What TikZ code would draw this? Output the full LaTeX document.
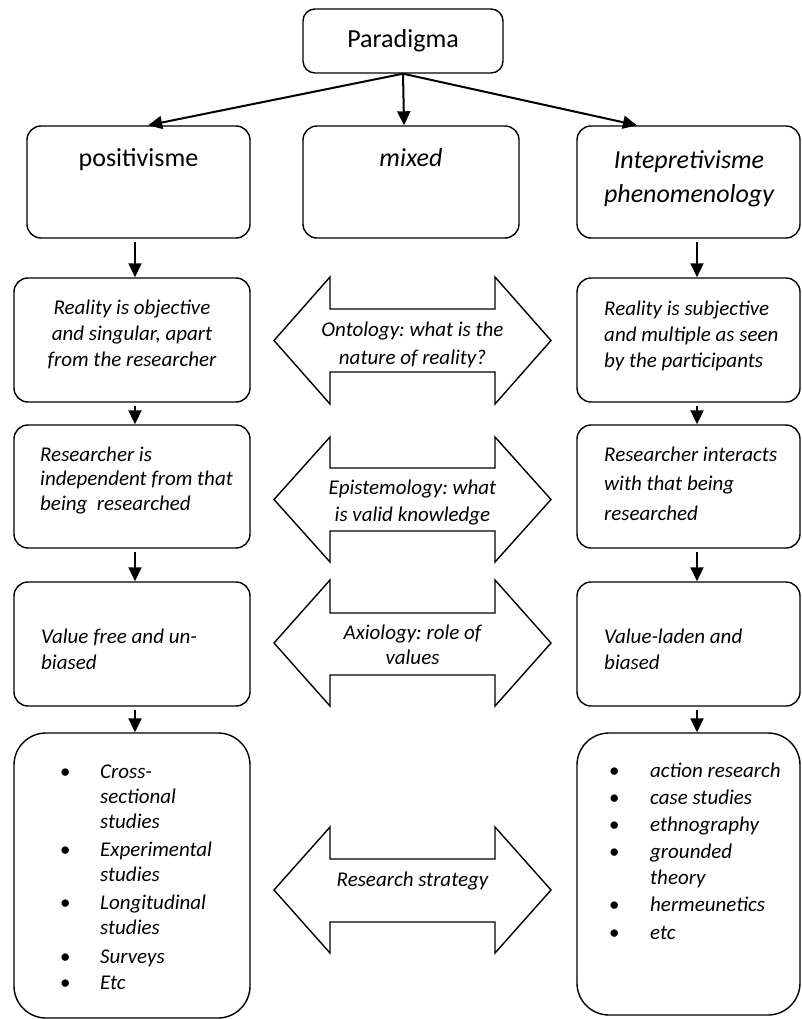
\documentclass[tikz,border=0pt]{standalone}
\usepackage{fontspec}
\setmainfont{Carlito}
\usetikzlibrary{arrows.meta,calc}
\frenchspacing

% multi-line text blocks whose baseline is the first line
\newcommand\txtL[1]{\begin{tabular}[t]{@{}l@{}}#1\end{tabular}}
\newcommand\txtC[1]{\begin{tabular}[t]{@{}c@{}}#1\end{tabular}}
\newcommand\bul{\makebox[20pt]{\textbullet}}

\begin{document}
\begin{tikzpicture}[x=1pt,y=-1pt,
  box/.style={draw, line width=1.4pt, rounded corners=14pt, inner sep=0pt},
  listbox/.style={box, rounded corners=32pt},
  big/.style={inner sep=0pt, font=\fontsize{26}{34}\selectfont},
  bigit/.style={inner sep=0pt, font=\fontsize{26}{34}\selectfont\itshape},
  small/.style={inner sep=0pt, font=\fontsize{21}{26}\selectfont\itshape},
  link/.style={line width=2pt, -{Triangle[length=14pt,width=13pt]}},
  down/.style={link, shorten <=3pt},
  dbl/.style={draw, line width=1.4pt, line join=miter},
]
\useasboundingbox (0,0) rectangle (802,1019);

% double-headed block arrow: top, shaft top, shaft bottom, bottom
\newcommand\dblarrow[4]{%
  \draw[dbl] (274,{(#1+#4)/2}) -- (330,#1) -- (330,#2) -- (495,#2) -- (495,#1)
    -- (551,{(#1+#4)/2}) -- (495,#4) -- (495,#3) -- (330,#3) -- (330,#4) -- cycle;}

% ---------- boxes ----------
\node[box, rounded corners=12pt, minimum width=200pt, minimum height=64pt] (par) at (403,41) {};

\node[box, minimum width=223pt, minimum height=112pt] (r1L) at (138.5,182) {};
\node[box, minimum width=216pt, minimum height=112pt] (r1M) at (411,182) {};
\node[box, minimum width=223pt, minimum height=112pt] (r1R) at (688.5,182) {};

\node[box, minimum width=236pt, minimum height=124pt] (onL) at (132,340) {};
\node[box, minimum width=223pt, minimum height=124pt] (onR) at (688.5,340) {};

\node[box, minimum width=236pt, minimum height=123pt] (epL) at (132,486.5) {};
\node[box, minimum width=223pt, minimum height=123pt] (epR) at (688.5,486.5) {};

\node[box, minimum width=236pt, minimum height=124pt] (vaL) at (132,644) {};
\node[box, minimum width=223pt, minimum height=124pt] (vaR) at (688.5,644) {};

\node[listbox, minimum width=236pt, minimum height=285pt] (stL) at (132,875.5) {};
\node[listbox, minimum width=223pt, minimum height=282pt] (stR) at (688.5,874) {};

% ---------- texts ----------
\node[big, anchor=base] (parT) at (403,48) {Paradigma};
\node[big, anchor=base] (posT) at (138.5,167) {positivisme};
\node[bigit, anchor=base] (mixT) at (411,167) {mixed};
\node[bigit, anchor=base] (intT) at (689,168) {\txtC{Intepretivisme\\phenomenology}};

\node[small, anchor=base] (onLT) at (132,314)
  {\txtC{Reality is objective\\and singular, apart\\from the researcher}};
\node[small, anchor=base west] (onRT) at (604,315)
  {\txtL{Reality is subjective\\and multiple as seen\\by the participants}};

\node[small, font=\fontsize{21}{24.5}\selectfont\itshape, anchor=base west] (epLT) at (40,461)
  {\txtL{Researcher is\\independent from that\\being\ \ researched}};
\node[small, font=\fontsize{21}{29.5}\selectfont\itshape, anchor=base west] (epRT) at (604,461)
  {\txtL{Researcher interacts\\with that being\\researched}};

\node[small, anchor=base west] (vaLT) at (41,643) {\txtL{Value free and un-\\biased}};
\node[small, anchor=base west] (vaRT) at (604,643) {\txtL{Value-laden and\\biased}};

\node[small, font=\fontsize{21}{25}\selectfont\itshape, anchor=base west] (stLT) at (55,778)
  {\begin{tabular}[t]{@{}l@{\hspace{25pt}}l@{}}
   \bul & Cross-\\ & sectional\\ & studies\\[3pt]
   \bul & Experimental\\ & studies\\[3pt]
   \bul & Longitudinal\\ & studies\\[4pt]
   \bul & Surveys\\[1pt]
   \bul & Etc
   \end{tabular}};
\node[small, anchor=base west] (stRT) at (604,777)
  {\begin{tabular}[t]{@{}l@{\hspace{26pt}}l@{}}
   \bul & action research\\[1pt]
   \bul & case studies\\[1pt]
   \bul & ethnography\\[1pt]
   \bul & grounded\\ & theory\\[1pt]
   \bul & hermeunetics\\[2pt]
   \bul & etc
   \end{tabular}};

% ---------- central block arrows ----------
\dblarrow{277}{309}{372}{404}
\dblarrow{437}{468}{531}{562}
\dblarrow{580}{613}{675}{706}
\dblarrow{827}{859}{922}{953}

\node[small, font=\fontsize{21}{28}\selectfont\itshape, anchor=base] (ontT) at (412.5,336)
  {\txtC{Ontology: what is the\\nature of reality?}};
\node[small, font=\fontsize{21}{27}\selectfont\itshape, anchor=base] (epiT) at (412.5,494)
  {\txtC{Epistemology: what\\is valid knowledge}};
\node[small, font=\fontsize{21}{25}\selectfont\itshape, anchor=base] (axiT) at (412.5,639)
  {\txtC{Axiology: role of\\values}};
\node[small, anchor=base] (strT) at (412.5,886) {Research strategy};

% ---------- connectors ----------
\draw[link] (par.south) -- ($(r1L.north west)!0.543!(r1L.north east)$);
\draw[link] (par.south) -- ($(r1M.north west)!0.468!(r1M.north east)$);
\draw[link] (par.south) -- ($(r1R.north west)!0.27!(r1R.north east)$);

\coordinate (colL) at (135,0);
\coordinate (colR) at (697,0);
\draw[down] (r1L.south -| colL) -- (onL.north -| colL);
\draw[down] (onL.south -| colL) -- (epL.north -| colL);
\draw[down] (epL.south -| colL) -- (vaL.north -| colL);
\draw[down] (vaL.south -| colL) -- (stL.north -| colL);
\draw[down] (r1R.south -| colR) -- (onR.north -| colR);
\draw[down] (onR.south -| colR) -- (epR.north -| colR);
\draw[down] (epR.south -| colR) -- (vaR.north -| colR);
\draw[down] (vaR.south -| colR) -- (stR.north -| colR);
\end{tikzpicture}
\end{document}
